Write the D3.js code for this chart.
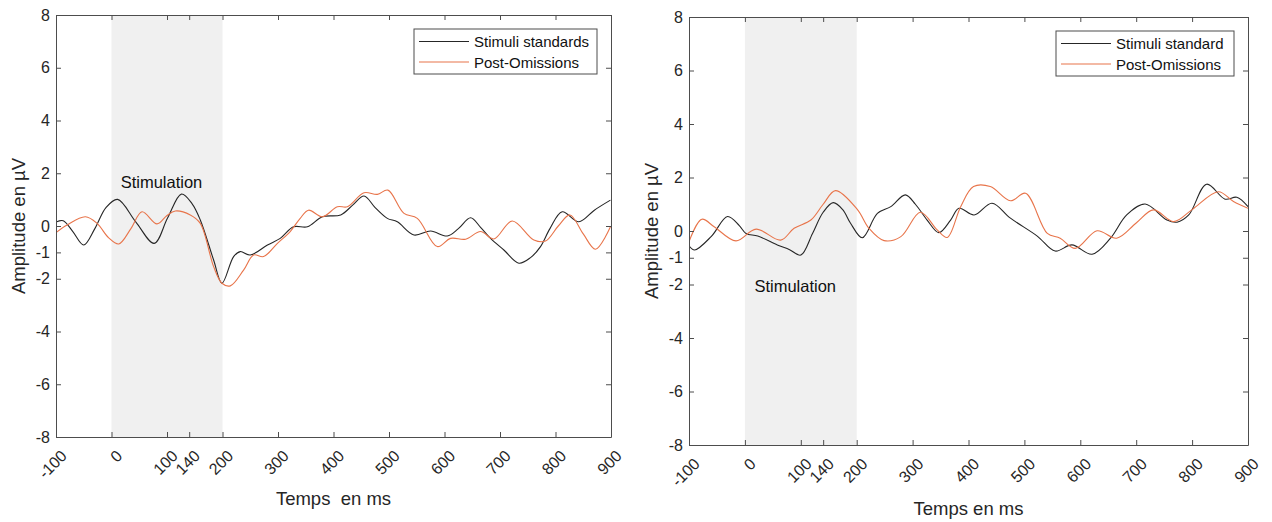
<!DOCTYPE html>
<html>
<head>
<meta charset="utf-8">
<script src="https://cdn.jsdelivr.net/npm/d3@7"></script>
<style>
  html, body { margin: 0; padding: 0; background: #fff; }
  svg { display: block; font-family: "Liberation Sans", Arial, sans-serif; }
</style>
</head>
<body>
<svg id="chart" width="1272" height="522"></svg>
<script>
// ---------- DATA ----------
const xTicks = [-100, 0, 100, 140, 200, 300, 400, 500, 600, 700, 800, 900];
const yTicks = [-8, -6, -4, -2, -1, 0, 2, 4, 6, 8];
const stimWindow = [0, 200];

// Left panel
const leftStdTime = [-100,-87,-70,-50,-30,-10,11,44,77,101,126,145,160,184,199,220,232,250,281,304,328,353,380,413,435,455,475,497,515,545,575,605,625,647,665,683,707,734,755,773,790,812,842,870,899];
const leftStdAmp  = [0.15,0.2,-0.2,-0.72,-0.1,0.7,1.01,0.15,-0.66,0.3,1.21,0.85,0.23,-1.29,-2.17,-1.16,-0.97,-1.1,-0.72,-0.47,-0.03,-0.03,0.35,0.42,0.8,1.14,0.7,0.29,0.16,-0.34,-0.19,-0.38,-0.1,0.31,-0.05,-0.47,-0.91,-1.41,-1.2,-0.78,-0.1,0.54,0.16,0.6,0.98];
const leftOmiTime = [-100,-80,-47,-26,-5,13,35,55,82,100,115,142,160,184,199,214,238,256,274,299,322,340,355,380,407,425,455,479,498,527,551,587,611,638,665,689,722,761,782,805,826,850,872,899];
const leftOmiAmp  = [-0.25,0.04,0.35,0.1,-0.45,-0.68,-0.1,0.54,0.08,0.4,0.57,0.42,0.1,-1.54,-2.17,-2.27,-1.67,-1.1,-1.16,-0.66,-0.21,0.29,0.6,0.35,0.73,0.73,1.26,1.2,1.36,0.48,0.29,-0.78,-0.47,-0.5,-0.21,-0.49,0.19,-0.53,-0.57,0.0,0.42,-0.3,-0.88,-0.03];

// Right panel
const rightStdTime = [-100,-90,-60,-31,-10,2,23,58,80,100,121,140,158,175,189,210,237,261,287,305,326,347,368,383,410,442,475,523,555,585,621,654,683,716,755,773,794,826,859,880,900];
const rightStdAmp  = [-0.55,-0.71,-0.2,0.54,0.2,-0.09,-0.19,-0.52,-0.7,-0.9,-0.09,0.7,1.06,0.8,0.29,-0.25,0.66,0.91,1.35,1.0,0.41,-0.06,0.41,0.85,0.6,1.04,0.48,-0.19,-0.75,-0.52,-0.87,-0.27,0.6,1.01,0.41,0.33,0.6,1.75,1.19,1.26,0.91];
const rightOmiTime = [-100,-77,-55,-16,20,64,88,118,140,162,201,222,249,279,314,344,362,386,409,439,475,502,541,564,591,630,665,700,731,767,800,847,874,900];
const rightOmiAmp  = [-0.4,0.44,0.16,-0.37,0.07,-0.34,0.1,0.41,1.0,1.51,0.81,0.1,-0.36,-0.21,0.7,0.04,-0.24,0.91,1.66,1.66,1.13,1.41,-0.09,-0.27,-0.65,0.01,-0.27,0.3,0.79,0.35,0.8,1.47,1.1,0.85];

const panels = [
  { left: 56, right: 611, top: 15, bottom: 437,
    xLabel: "Temps\u00a0\u00a0en ms", xLabelY: 498, yLabelX: 18,
    stdName: "Stimuli standards", omiName: "Post-Omissions",
    stdT: leftStdTime, stdV: leftStdAmp, omiT: leftOmiTime, omiV: leftOmiAmp,
    stimText: [90, 1.65], legendW: 183 },
  { left: 689, right: 1248, top: 17, bottom: 445,
    xLabel: "Temps en ms", xLabelY: 508, yLabelX: 651,
    stdName: "Stimuli standard", omiName: "Post-Omissions",
    stdT: rightStdTime, stdV: rightStdAmp, omiT: rightOmiTime, omiV: rightOmiAmp,
    stimText: [90, -2.05], legendW: 178 }
];

const svg = d3.select("#chart");
const axisColor = "#4d4d4d";
const textColor = "#262626";
const stdColor = "#262626";
const omiColor = "#e8744a";

panels.forEach((p, i) => {
  const x = d3.scaleLinear().domain([-100, 900]).range([p.left, p.right]);
  const y = d3.scaleLinear().domain([-8, 8]).range([p.bottom, p.top]);
  const g = svg.append("g");
  const clipId = "clip" + i;
  g.append("clipPath").attr("id", clipId).append("rect")
    .attr("x", p.left).attr("y", p.top)
    .attr("width", p.right - p.left).attr("height", p.bottom - p.top);

  // stimulation window
  g.append("rect")
    .attr("x", x(stimWindow[0])).attr("y", p.top)
    .attr("width", x(stimWindow[1]) - x(stimWindow[0]))
    .attr("height", p.bottom - p.top)
    .attr("fill", "#f0f0f0");

  // curves
  const line = d3.line().x(d => x(d[0])).y(d => y(d[1])).curve(d3.curveCatmullRom.alpha(0.5));
  const stdData = p.stdT.map((t, k) => [t, p.stdV[k]]);
  const omiData = p.omiT.map((t, k) => [t, p.omiV[k]]);
  const curves = g.append("g").attr("clip-path", `url(#${clipId})`);
  curves.append("path").datum(stdData).attr("d", line)
    .attr("fill", "none").attr("stroke", stdColor).attr("stroke-width", 1.1);
  curves.append("path").datum(omiData).attr("d", line)
    .attr("fill", "none").attr("stroke", omiColor).attr("stroke-width", 1.1);

  // axes (ticks inside)
  const xAxisB = d3.axisBottom(x).tickValues(xTicks).tickSizeInner(-5).tickSizeOuter(0).tickFormat("");
  const xAxisT = d3.axisTop(x).tickValues(xTicks).tickSizeInner(-5).tickSizeOuter(0).tickFormat("");
  const yAxisL = d3.axisLeft(y).tickValues(yTicks).tickSizeInner(-5).tickSizeOuter(0).tickFormat("");
  const yAxisR = d3.axisRight(y).tickValues(yTicks).tickSizeInner(-5).tickSizeOuter(0).tickFormat("");
  const axes = [
    g.append("g").attr("transform", `translate(0,${p.bottom})`).call(xAxisB),
    g.append("g").attr("transform", `translate(0,${p.top})`).call(xAxisT),
    g.append("g").attr("transform", `translate(${p.left},0)`).call(yAxisL),
    g.append("g").attr("transform", `translate(${p.right},0)`).call(yAxisR)
  ];
  axes.forEach(a => {
    a.selectAll("path").attr("stroke", axisColor).attr("stroke-width", 1);
    a.selectAll("line").attr("stroke", axisColor).attr("stroke-width", 1);
  });

  // tick labels
  g.append("g").selectAll("text").data(xTicks).join("text")
    .attr("transform", d => `translate(${x(d) + 8},${p.bottom + 16}) rotate(-45)`)
    .attr("text-anchor", "end").attr("dominant-baseline", "central")
    .attr("font-size", 16).attr("fill", textColor)
    .text(d => d);
  g.append("g").selectAll("text").data(yTicks).join("text")
    .attr("x", p.left - 6).attr("y", d => y(d))
    .attr("text-anchor", "end").attr("dominant-baseline", "central")
    .attr("font-size", 16).attr("fill", textColor)
    .text(d => d);

  // axis labels
  g.append("text")
    .attr("x", (p.left + p.right) / 2).attr("y", p.xLabelY)
    .attr("text-anchor", "middle").attr("dominant-baseline", "central")
    .attr("font-size", 18.5).attr("fill", textColor)
    .text(p.xLabel);
  g.append("text")
    .attr("transform", `translate(${p.yLabelX},${(p.top + p.bottom) / 2}) rotate(-90)`)
    .attr("text-anchor", "middle").attr("dominant-baseline", "central")
    .attr("font-size", 18.5).attr("fill", textColor)
    .text("Amplitude en \u00b5V");

  // Stimulation label
  g.append("text")
    .attr("x", x(p.stimText[0])).attr("y", y(p.stimText[1]))
    .attr("text-anchor", "middle").attr("dominant-baseline", "central")
    .attr("font-size", 16.5).attr("fill", "#111")
    .text("Stimulation");

  // legend
  const lw = p.legendW, lh = 45;
  const lx = p.right - 14 - lw, ly = p.top + 14;
  const leg = g.append("g").attr("transform", `translate(${lx},${ly})`);
  leg.append("rect").attr("width", lw).attr("height", lh)
    .attr("fill", "#fff").attr("stroke", axisColor).attr("stroke-width", 1);
  const entries = [[p.stdName, stdColor, 12.5], [p.omiName, omiColor, 33]];
  entries.forEach(([name, col, yy]) => {
    leg.append("line").attr("x1", 5).attr("x2", 55).attr("y1", yy).attr("y2", yy)
      .attr("stroke", col).attr("stroke-width", 1.1);
    leg.append("text").attr("x", 60).attr("y", yy)
      .attr("dominant-baseline", "central").attr("font-size", 15).attr("fill", "#111")
      .text(name);
  });
});
</script>
</body>
</html>
